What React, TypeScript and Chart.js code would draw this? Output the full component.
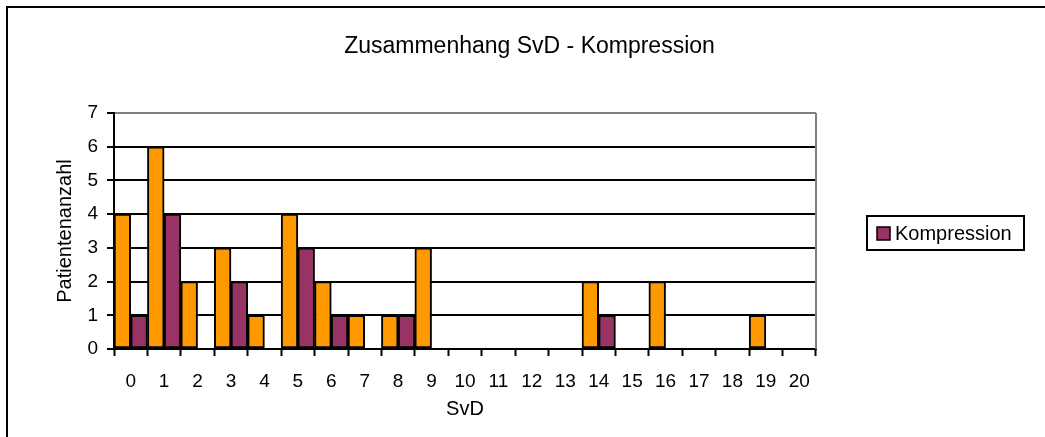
import React, { useEffect, useRef } from 'react';
import { Chart, registerables } from 'chart.js';

Chart.register(...registerables);

const categories = ['0', '1', '2', '3', '4', '5', '6', '7', '8', '9', '10', '11', '12', '13', '14', '15', '16', '17', '18', '19', '20'];
const orangeValues = [4, 6, 2, 3, 1, 4, 2, 1, 1, 3, 0, 0, 0, 0, 2, 0, 2, 0, 0, 1, 0];
const kompressionValues = [1, 4, 0, 2, 0, 3, 1, 0, 1, 0, 0, 0, 0, 0, 1, 0, 0, 0, 0, 0, 0];
const yMin = 0;
const yMax = 7;
const yStep = 1;

const chartTitle = 'Zusammenhang SvD - Kompression';
const xAxisTitle = 'SvD';
const yAxisTitle = 'Patientenanzahl';
const legendLabel = 'Kompression';

const ORANGE = '#FF9900';
const PURPLE = '#993366';
const FONT = '"Liberation Sans", Arial, sans-serif';

// zero counts are not drawn as bars (as in the original)
const hideZero = (arr: number[]) => arr.map((v) => (v === 0 ? null : v));

const decorPlugin = {
  id: 'decor',
  beforeDraw(chart: any) {
    const { ctx, width, height } = chart;
    ctx.save();
    ctx.fillStyle = '#fff';
    ctx.fillRect(0, 0, width, height);
    ctx.restore();
  },
  afterDraw(chart: any) {
    const { ctx, chartArea, width, height } = chart;
    ctx.save();
    ctx.strokeStyle = '#000';
    ctx.lineWidth = 2;
    ctx.beginPath();
    ctx.moveTo(7, height);
    ctx.lineTo(7, 7);
    ctx.lineTo(width, 7);
    ctx.stroke();
    ctx.strokeStyle = '#808080';
    ctx.lineWidth = 2;
    ctx.beginPath();
    ctx.moveTo(chartArea.right, chartArea.top);
    ctx.lineTo(chartArea.right, chartArea.bottom);
    ctx.stroke();
    ctx.fillStyle = '#000';
    ctx.font = '23px ' + FONT;
    ctx.textAlign = 'center';
    ctx.textBaseline = 'middle';
    ctx.fillText(chartTitle, width / 2 + 7, 47);
    ctx.strokeStyle = '#000';
    ctx.lineWidth = 2;
    ctx.strokeRect(867, 216, 157, 34);
    ctx.fillStyle = PURPLE;
    ctx.fillRect(877, 227, 13, 13);
    ctx.lineWidth = 1.5;
    ctx.strokeRect(877, 227, 13, 13);
    ctx.fillStyle = '#000';
    ctx.font = '20px ' + FONT;
    ctx.textAlign = 'left';
    ctx.textBaseline = 'middle';
    ctx.fillText(legendLabel, 895, 234);
    ctx.restore();
  },
};

export default function App() {
  const canvasRef = useRef<HTMLCanvasElement | null>(null);

  useEffect(() => {
    const canvas = canvasRef.current;
    if (!canvas) return;
    const chart = new Chart(canvas, {
      type: 'bar',
      data: {
        labels: categories,
        datasets: [
          {
            label: '',
            data: hideZero(orangeValues),
            backgroundColor: ORANGE,
            borderColor: '#000',
            borderWidth: 2,
            borderSkipped: false,
            categoryPercentage: 1.0,
            barPercentage: 1.0,
          },
          {
            label: legendLabel,
            data: hideZero(kompressionValues),
            backgroundColor: PURPLE,
            borderColor: '#000',
            borderWidth: 2,
            borderSkipped: false,
            categoryPercentage: 1.0,
            barPercentage: 1.0,
          },
        ],
      },
      options: {
        responsive: false,
        animation: false,
        devicePixelRatio: 1,
        layout: { padding: { top: 113, right: 229, bottom: 0, left: 0 } },
        plugins: {
          legend: { display: false },
          title: { display: false },
          tooltip: { enabled: false },
        },
        scales: {
          x: {
            offset: true,
            grid: {
              offset: true,
              drawOnChartArea: false,
              drawTicks: true,
              tickLength: 7,
              tickColor: '#000',
              tickWidth: 2,
            },
            border: { display: true, color: '#000', width: 2 },
            ticks: {
              color: '#000',
              font: { family: FONT, size: 19 },
              padding: 14,
              maxRotation: 0,
              autoSkip: false,
            },
            title: {
              display: true,
              text: xAxisTitle,
              color: '#000',
              font: { family: FONT, size: 20 },
              padding: { top: 0, bottom: 16 },
            },
            afterFit: (scale: any) => {
              scale.height = 88;
            },
          },
          y: {
            min: yMin,
            max: yMax,
            ticks: {
              stepSize: yStep,
              color: '#000',
              font: { family: FONT, size: 19 },
              padding: 9,
            },
            grid: {
              color: (c: any) => (c.tick && c.tick.value === yMax ? '#808080' : '#000'),
              lineWidth: 2,
              tickLength: 7,
              tickColor: '#000',
              tickWidth: 2,
            },
            border: { display: true, color: '#000', width: 2 },
            title: {
              display: true,
              text: yAxisTitle,
              color: '#000',
              font: { family: FONT, size: 20 },
              padding: { top: 53, bottom: 0 },
            },
            afterFit: (scale: any) => {
              scale.width = 114;
            },
          },
        },
      },
      plugins: [decorPlugin],
    });
    return () => chart.destroy();
  }, []);

  return (
    <div style={{ position: 'absolute', left: 0, top: 0, width: 1045, height: 437 }}>
      <canvas ref={canvasRef} width={1045} height={437} style={{ display: 'block' }} />
    </div>
  );
}
